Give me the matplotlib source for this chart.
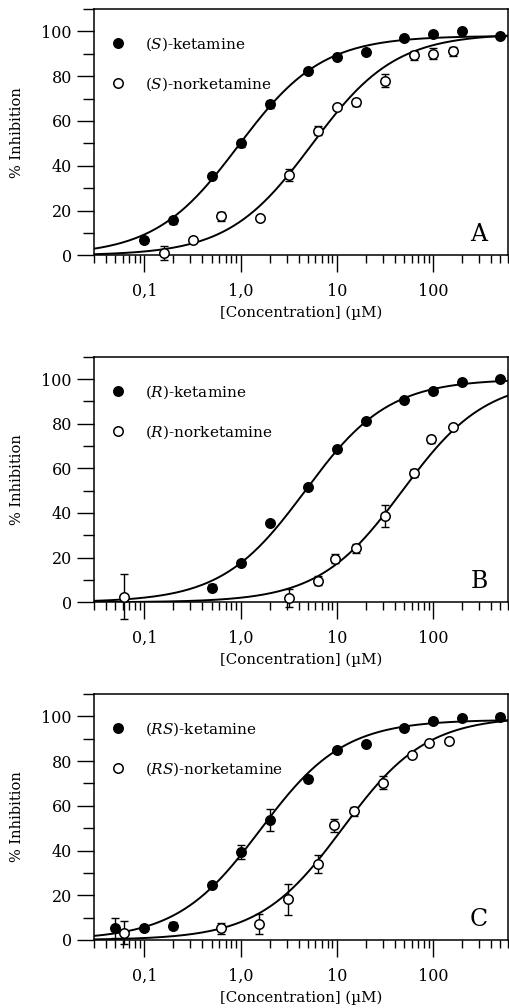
import numpy as np
import matplotlib
matplotlib.use("Agg")
import matplotlib.pyplot as plt
from matplotlib.ticker import FixedLocator, FixedFormatter, LogLocator, NullFormatter, MultipleLocator
from matplotlib.lines import Line2D

plt.rcParams['font.family'] = ['DejaVu Serif']
plt.rcParams['mathtext.fontset'] = 'dejavuserif'

# ---------------- data ----------------
# Panel A : (S)
A_ket_conc = [0.1, 0.2, 0.5, 1, 2, 5, 10, 20, 50, 100, 200, 500]
A_ket_inh = [7.1, 15.6, 35.6, 50.1, 67.4, 82.5, 88.4, 90.8, 97.0, 98.8, 100.0, 98.1]
A_ket_err = [0, 1.5, 0, 1.5, 1.5, 0, 0, 0, 0, 0, 0, 0]
A_nor_conc = [0.16, 0.32, 0.63, 1.6, 3.2, 6.4, 10, 16, 32, 64, 100, 160]
A_nor_inh = [1.0, 7.1, 17.5, 16.7, 35.9, 55.6, 66.4, 68.4, 78.0, 89.3, 90.0, 91.1]
A_nor_err = [3, 0, 2, 0, 2.5, 2, 0, 1.5, 3, 2, 2.5, 2]

# Panel B : (R)
B_ket_conc = [0.5, 1, 2, 5, 10, 20, 50, 100, 200, 500]
B_ket_inh = [6.5, 17.4, 35.6, 51.6, 68.5, 81.0, 90.6, 94.5, 98.5, 100.0]
B_ket_err = [1.5, 0, 0, 0, 0, 0, 0, 0, 0, 0]
B_nor_conc = [0.062, 3.2, 6.4, 9.5, 16, 32, 64, 95, 160]
B_nor_inh = [2.5, 2.1, 9.7, 19.6, 24.1, 38.7, 57.9, 73.0, 78.4]
B_nor_err = [10, 4, 2, 2, 2, 5, 2, 1.5, 0]

# Panel C : (RS)
C_ket_conc = [0.05, 0.1, 0.2, 0.5, 1, 2, 5, 10, 20, 50, 100, 200, 500]
C_ket_inh = [5.2, 5.2, 6.4, 24.6, 39.4, 53.6, 72.0, 84.8, 87.8, 94.9, 97.8, 99.4, 99.7]
C_ket_err = [4.5, 0, 1.5, 0, 3, 5, 1.5, 0, 0, 0, 0, 0, 1.5]
C_nor_conc = [0.062, 0.62, 1.55, 3.1, 6.3, 9.3, 15.2, 30, 60, 90, 145]
C_nor_inh = [3.3, 5.2, 7.1, 18.2, 33.9, 51.3, 57.6, 70.4, 82.9, 88.1, 89.0]
C_nor_err = [5, 2.5, 4.5, 7, 4, 3, 2, 3, 0, 0, 0]

# fitted sigmoid parameters (IC50 in uM, top %, Hill slope)
A_ket_fit = (0.95, 98.0, 1.0)
A_nor_fit = (5.5, 99.0, 1.0)
B_ket_fit = (4.7, 100.0, 1.0)
B_nor_fit = (48.0, 100.0, 1.0)
C_ket_fit = (1.6, 98.5, 1.0)
C_nor_fit = (11.5, 100.0, 1.0)

panel_letters = ['A', 'B', 'C']
panel_prefix = ['S', 'R', 'RS']
xtick_vals = [0.1, 1, 10, 100]
xtick_labels = ['0,1', '1,0', '10', '100']
ytick_vals = [0, 20, 40, 60, 80, 100]
x_range = (0.03, 600)
y_range = (0, 110)

panels = [
    (A_ket_conc, A_ket_inh, A_ket_err, A_nor_conc, A_nor_inh, A_nor_err, A_ket_fit, A_nor_fit),
    (B_ket_conc, B_ket_inh, B_ket_err, B_nor_conc, B_nor_inh, B_nor_err, B_ket_fit, B_nor_fit),
    (C_ket_conc, C_ket_inh, C_ket_err, C_nor_conc, C_nor_inh, C_nor_err, C_ket_fit, C_nor_fit),
]

# ---------------- figure ----------------
fig = plt.figure(figsize=(5.09, 10.08), dpi=100)
left, width = 94 / 509, (508 - 94) / 509
rects = [
    (left, 0.7466, width, 0.2445),
    (left, 0.4025, width, 0.2436),
    (left, 0.0675, width, 0.2440),
]

def hill(x, ic50, top, n):
    return top / (1.0 + (ic50 / x) ** n)

xs = np.logspace(np.log10(x_range[0]), np.log10(x_range[1]), 400)

for i, (kc, ki, ke, nc, ni, ne, kf, nf) in enumerate(panels):
    ax = fig.add_axes(rects[i])
    ax.set_xscale('log')
    ax.set_xlim(*x_range)
    ax.set_ylim(*y_range)

    ax.plot(xs, hill(xs, *kf), color='black', lw=1.4, zorder=2)
    ax.plot(xs, hill(xs, *nf), color='black', lw=1.4, zorder=2)

    for c, v, e, filled in ((kc, ki, ke, True), (nc, ni, ne, False)):
        c = np.asarray(c, float); v = np.asarray(v, float); e = np.asarray(e, float)
        m = e > 0
        if m.any():
            ax.errorbar(c[m], v[m], yerr=e[m], fmt='none', ecolor='black',
                        elinewidth=1.0, capsize=3, capthick=1.0, zorder=3, clip_on=False)
        ax.plot(c, v, 'o', ms=6.8, mfc='black' if filled else 'white', mec='black',
                mew=1.1, zorder=4, clip_on=False, linestyle='none')

    # ticks
    ax.xaxis.set_major_locator(FixedLocator(xtick_vals))
    ax.xaxis.set_major_formatter(FixedFormatter(xtick_labels))
    ax.xaxis.set_minor_locator(LogLocator(base=10, subs=np.arange(2, 10)))
    ax.xaxis.set_minor_formatter(NullFormatter())
    ax.yaxis.set_major_locator(FixedLocator(ytick_vals))
    ax.yaxis.set_minor_locator(MultipleLocator(10))
    ax.tick_params(which='major', direction='out', length=12, width=1.0, labelsize=11.5)
    ax.tick_params(axis='x', which='major', pad=8)
    ax.tick_params(axis='y', which='major', pad=4)
    ax.tick_params(axis='x', which='minor', direction='out', length=6, width=1.0)
    ax.tick_params(axis='y', which='minor', direction='out', length=8, width=1.0)
    ax.tick_params(top=False, right=False, which='both')
    for s in ax.spines.values():
        s.set_linewidth(1.1)

    ax.set_ylabel('% Inhibition', fontsize=10.5)
    ax.yaxis.set_label_coords(-0.168, 0.5)
    ax.set_xlabel('[Concentration] (µM)', fontsize=10.8, va='top')
    ax.xaxis.set_label_coords(0.5, -0.205)

    p = panel_prefix[i]
    handles = [
        Line2D([], [], marker='o', ls='none', ms=6.8, mfc='black', mec='black', mew=1.1),
        Line2D([], [], marker='o', ls='none', ms=6.8, mfc='white', mec='black', mew=1.1),
    ]
    labels = [r'($\mathit{%s}$)-ketamine' % p, r'($\mathit{%s}$)-norketamine' % p]
    ax.legend(handles, labels, loc='upper left', bbox_to_anchor=(0.04, 0.893),
              frameon=False, fontsize=11, handlelength=1.0, handletextpad=1.25,
              labelspacing=1.45, borderpad=0, borderaxespad=0)

    ax.text(0.93, 0.085, panel_letters[i], transform=ax.transAxes,
            fontsize=17, ha='center', va='center')

fig.savefig('out.png', dpi=100)
